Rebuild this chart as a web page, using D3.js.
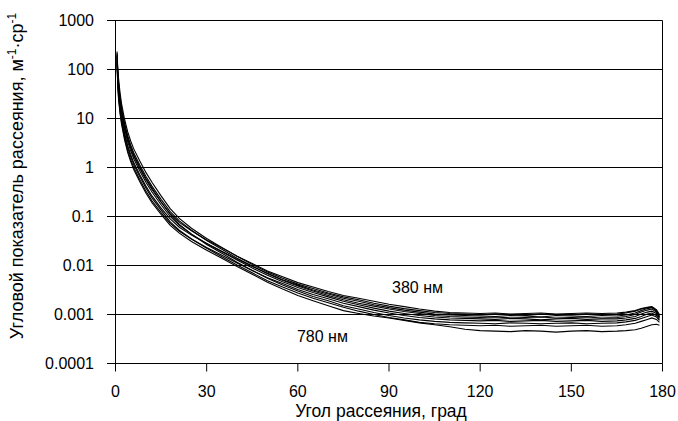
<!DOCTYPE html>
<html>
<head>
<meta charset="utf-8">
<script src="https://cdn.jsdelivr.net/npm/d3@7"></script>
<style>
  html, body { margin: 0; padding: 0; background: #fff; }
  svg { display: block; }
  text { font-family: "Liberation Sans", Arial, sans-serif; fill: #000; }
</style>
</head>
<body>
<svg id="chart" width="678" height="421"></svg>
<script>
// Scattering angle, degrees
const angles = [0.5, 0.75, 1, 1.5, 2,  3, 4, 5, 6, 8,  10, 12, 15, 18, 21,  25, 30, 35, 40, 45,
  50, 55, 60, 65, 70,  75, 80, 85, 90, 95,  100, 105, 110, 115, 120,  125, 130, 135, 140, 145,
  150, 155, 160, 165, 168,  171, 173, 175, 176.5, 178,  179];

// Angular scattering coefficient, m^-1 sr^-1, one array per wavelength
const w380 = [200, 81.3, 46.8, 23.4, 14.1,  6.76, 3.80, 2.45, 1.70, 0.955,  0.562, 0.355, 0.195, 0.115, 0.0759,
  0.0513, 0.0331, 0.0229, 0.0155, 0.0110,  0.00776, 0.00589, 0.00447, 0.00363, 0.00295,
  0.00245, 0.00214, 0.00186, 0.00162, 0.00145,  0.00129, 0.00117, 0.00110, 0.00107, 0.00105,
  0.00107, 0.00102, 0.00105, 0.00107, 0.00102,  0.00105, 0.00107, 0.00105, 0.00107, 0.00112,
  0.00120, 0.00132, 0.00141, 0.00145, 0.00126,  0.00100];
const w430 = [234, 105, 66.1, 33.1, 20.0,  9.55, 5.37, 3.47, 2.40, 1.35,  0.794, 0.501, 0.263, 0.145, 0.0912,
  0.0575, 0.0355, 0.0234, 0.0155, 0.0105,  0.00741, 0.00550, 0.00417, 0.00339, 0.00275,
  0.00229, 0.00200, 0.00170, 0.00148, 0.00132,  0.00120, 0.00110, 0.00105, 0.00102, 0.000977,
  0.00102, 0.00100, 0.000955, 0.00102, 0.00100,  0.000977, 0.00102, 0.00100, 0.00102, 0.00107,
  0.00117, 0.00129, 0.00138, 0.00141, 0.00120,  0.000955];
const w480 = [158, 61.7, 34.7, 17.4, 10.5,  5.01, 2.82, 1.82, 1.26, 0.708,  0.417, 0.263, 0.148, 0.0891, 0.0603,
  0.0417, 0.0282, 0.0195, 0.0135, 0.00955,  0.00692, 0.00513, 0.00398, 0.00316, 0.00263,
  0.00214, 0.00186, 0.00158, 0.00138, 0.00123,  0.00112, 0.00102, 0.000977, 0.000955, 0.000933,
  0.000912, 0.000955, 0.000933, 0.000891, 0.000955,  0.000933, 0.000912, 0.000955, 0.000933, 0.000977,
  0.00107, 0.00120, 0.00132, 0.00138, 0.00117,  0.000912];
const w530 = [214, 91.2, 55.0, 27.5, 16.6,  7.94, 4.47, 2.88, 2.00, 1.12,  0.661, 0.417, 0.224, 0.126, 0.0813,
  0.0525, 0.0324, 0.0214, 0.0141, 0.00977,  0.00676, 0.00501, 0.00380, 0.00302, 0.00245,
  0.00200, 0.00170, 0.00148, 0.00129, 0.00115,  0.00105, 0.000955, 0.000912, 0.000891, 0.000871,
  0.000891, 0.000851, 0.000871, 0.000891, 0.000851,  0.000871, 0.000891, 0.000851, 0.000871, 0.000912,
  0.00100, 0.00112, 0.00123, 0.00129, 0.00112,  0.000891];
const w580 = [178, 72.4, 41.7, 20.9, 12.6,  6.03, 3.39, 2.19, 1.51, 0.851,  0.501, 0.316, 0.174, 0.100, 0.0661,
  0.0437, 0.0282, 0.0191, 0.0129, 0.00891,  0.00631, 0.00468, 0.00355, 0.00282, 0.00229,
  0.00186, 0.00158, 0.00135, 0.00117, 0.00105,  0.000955, 0.000891, 0.000851, 0.000832, 0.000813,
  0.000794, 0.000832, 0.000813, 0.000776, 0.000813,  0.000832, 0.000794, 0.000813, 0.000813, 0.000851,
  0.000912, 0.00102, 0.00112, 0.00117, 0.00105,  0.000851];
const w630 = [135, 51.3, 27.5, 13.8, 8.32,  3.98, 2.24, 1.45, 1.00, 0.562,  0.331, 0.209, 0.120, 0.0724, 0.0501,
  0.0347, 0.0234, 0.0162, 0.0112, 0.00794,  0.00562, 0.00427, 0.00324, 0.00257, 0.00209,
  0.00170, 0.00145, 0.00123, 0.00107, 0.000955,  0.000871, 0.000813, 0.000776, 0.000759, 0.000741,
  0.000759, 0.000724, 0.000741, 0.000759, 0.000724,  0.000741, 0.000759, 0.000724, 0.000741, 0.000776,
  0.000832, 0.000912, 0.00102, 0.00107, 0.000955,  0.000794];
const w680 = [191, 83.2, 50.1, 25.1, 15.1,  7.24, 4.07, 2.63, 1.82, 1.02,  0.603, 0.380, 0.200, 0.110, 0.0692,
  0.0437, 0.0269, 0.0178, 0.0117, 0.00794,  0.00550, 0.00398, 0.00302, 0.00234, 0.00191,
  0.00151, 0.00129, 0.00110, 0.000955, 0.000851,  0.000776, 0.000724, 0.000692, 0.000676, 0.000661,
  0.000646, 0.000676, 0.000661, 0.000646, 0.000661,  0.000676, 0.000646, 0.000661, 0.000676, 0.000708,
  0.000759, 0.000832, 0.000912, 0.000977, 0.000891,  0.000759];
const w730 = [148, 57.5, 31.6, 15.8, 9.55,  4.57, 2.57, 1.66, 1.15, 0.646,  0.380, 0.240, 0.135, 0.0776, 0.0525,
  0.0347, 0.0224, 0.0151, 0.0102, 0.00708,  0.00490, 0.00363, 0.00275, 0.00214, 0.00174,
  0.00141, 0.00117, 0.00100, 0.000871, 0.000776,  0.000692, 0.000646, 0.000617, 0.000603, 0.000589,
  0.000603, 0.000575, 0.000589, 0.000603, 0.000575,  0.000589, 0.000603, 0.000575, 0.000589, 0.000617,
  0.000661, 0.000724, 0.000794, 0.000851, 0.000794,  0.000692];
const w780 = [126, 46.8, 25.1, 12.6, 7.59,  3.63, 2.04, 1.32, 0.912, 0.513,  0.302, 0.191, 0.110, 0.0661, 0.0457,
  0.0309, 0.0204, 0.0141, 0.00955, 0.00661,  0.00457, 0.00331, 0.00245, 0.00191, 0.00151,
  0.00120, 0.00105, 0.000933, 0.000851, 0.000759,  0.000676, 0.000617, 0.000562, 0.000501, 0.000468,
  0.000457, 0.000447, 0.000468, 0.000457, 0.000437,  0.000457, 0.000468, 0.000447, 0.000457, 0.000468,
  0.000490, 0.000525, 0.000575, 0.000617, 0.000631,  0.000603];

const seriesList = [w380, w430, w480, w530, w580, w630, w680, w730, w780];

const yTicks = [0.0001, 0.001, 0.01, 0.1, 1, 10, 100, 1000];
const yTickLabels = ["0.0001", "0.001", "0.01", "0.1", "1", "10", "100", "1000"];
const xTicks = [0, 30, 60, 90, 120, 150, 180];

const annotations = [
  { text: "380 нм", angle: 91, value: 0.0028 },
  { text: "780 нм", angle: 59.7, value: 0.000275 }
];

const svg = d3.select("#chart");

const x = d3.scaleLinear().domain([0, 180]).range([115.5, 662.5]);
const y = d3.scaleLog().domain([1e-4, 1e3]).range([363.5, 20.5]);

// horizontal gridlines (extend left as ticks)
svg.append("g").selectAll("line").data(yTicks).join("line")
  .attr("x1", 107).attr("x2", x(180))
  .attr("y1", d => y(d)).attr("y2", d => y(d))
  .attr("stroke", "#000").attr("stroke-width", 1);

// y axis line and right border
svg.append("line").attr("x1", x(0)).attr("x2", x(0))
  .attr("y1", y(1000)).attr("y2", y(1e-4)).attr("stroke", "#000");
svg.append("line").attr("x1", x(180)).attr("x2", x(180))
  .attr("y1", y(1000)).attr("y2", y(1e-4)).attr("stroke", "#000");

// x ticks
svg.append("g").selectAll("line").data(xTicks).join("line")
  .attr("x1", d => x(d)).attr("x2", d => x(d))
  .attr("y1", y(1e-4)).attr("y2", y(1e-4) + 8)
  .attr("stroke", "#000");

// y tick labels
svg.append("g").selectAll("text").data(yTicks).join("text")
  .attr("x", 94).attr("y", d => y(d)).attr("dy", "0.36em")
  .attr("text-anchor", "end").attr("font-size", 16)
  .text((d, i) => yTickLabels[i]);

// x tick labels
svg.append("g").selectAll("text").data(xTicks).join("text")
  .attr("x", d => x(d)).attr("y", 397)
  .attr("text-anchor", "middle").attr("font-size", 16)
  .text(d => d);

// curves
const line = d3.line()
  .x((d, i) => x(angles[i]))
  .y(d => y(d));
svg.append("g").selectAll("path").data(seriesList).join("path")
  .attr("d", d => line(d))
  .attr("fill", "none").attr("stroke", "#000").attr("stroke-width", 1.1);

// annotations
svg.append("g").selectAll("text").data(annotations).join("text")
  .attr("x", d => x(d.angle)).attr("y", d => y(d.value))
  .attr("font-size", 16)
  .text(d => d.text);

// axis titles
svg.append("text").attr("x", 381).attr("y", 417)
  .attr("text-anchor", "middle").attr("font-size", 17.5)
  .text("Угол рассеяния, град");

const yt = svg.append("text")
  .attr("transform", "translate(23,176) rotate(-90)")
  .attr("text-anchor", "middle").attr("font-size", 18);
yt.append("tspan").text("Угловой показатель рассеяния, м");
yt.append("tspan").attr("font-size", 12).attr("dy", -7).text("-1");
yt.append("tspan").attr("dy", 7).text("·ср");
yt.append("tspan").attr("font-size", 12).attr("dy", -7).text("-1");
</script>
</body>
</html>
